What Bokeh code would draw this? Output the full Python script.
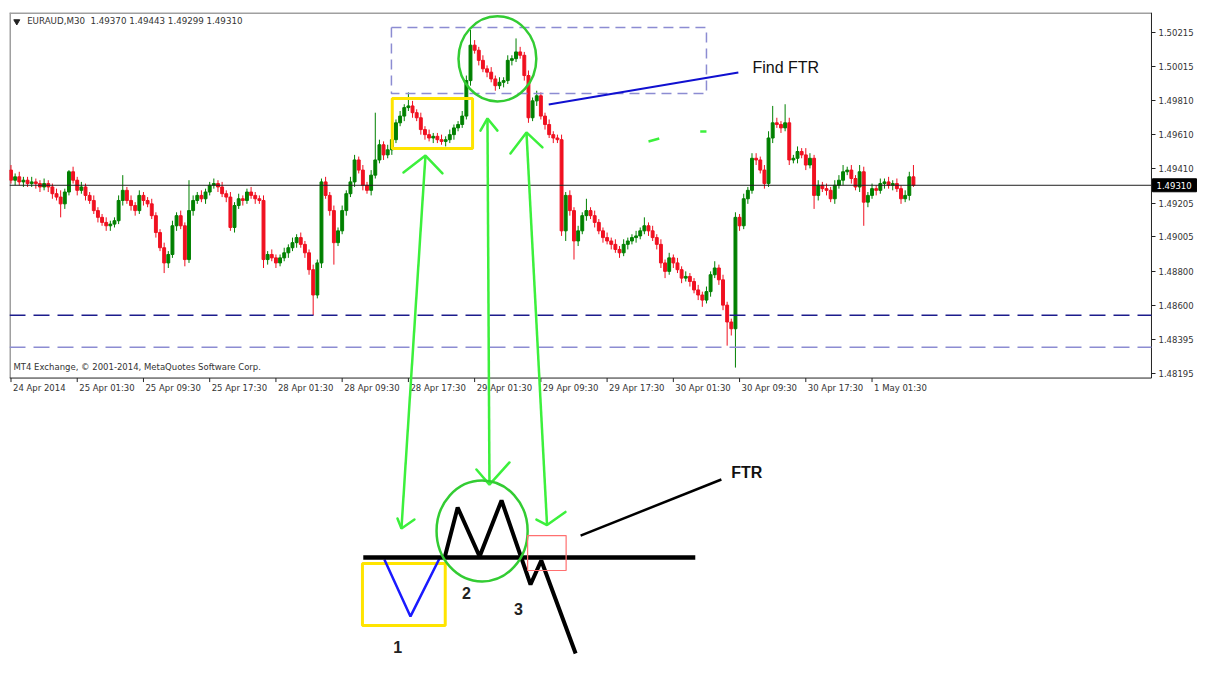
from bokeh.plotting import figure
from bokeh.models import Range1d, FixedTicker, PrintfTickFormatter, ColumnDataSource
from bokeh.core.properties import value
from bokeh.embed import file_html
from bokeh.resources import INLINE

# ---------------- data (EURAUD M30) ----------------
PIP = 0.0001
first_open = 1.4940
closes = [
    1.4934, 1.4936, 1.4933, 1.4934, 1.4932, 1.4933, 1.4932, 1.4930, 1.4932, 1.4930,
    1.4926, 1.4924, 1.4920, 1.4927, 1.4939, 1.4934, 1.4928, 1.4930, 1.4925, 1.4922,
    1.4916, 1.4912, 1.4909, 1.4907, 1.4908, 1.4910, 1.4922, 1.4928, 1.4922, 1.4919,
    1.4916, 1.4925, 1.4922, 1.4920, 1.4913, 1.4903, 1.4894, 1.4885, 1.4890, 1.4907,
    1.4913, 1.4907, 1.4887, 1.4916, 1.4922, 1.4925, 1.4923, 1.4927, 1.4931, 1.4932,
    1.4930, 1.4926, 1.4924, 1.4906, 1.4919, 1.4923, 1.4922, 1.4927, 1.4925, 1.4923,
    1.4922, 1.4887, 1.4890, 1.4888, 1.4885, 1.4888, 1.4891, 1.4894, 1.4897, 1.4900,
    1.4896, 1.4891, 1.4881, 1.4866, 1.4885, 1.4933, 1.4925, 1.4916, 1.4897, 1.4904,
    1.4916, 1.4926, 1.4933, 1.4946, 1.4940, 1.4931, 1.4928, 1.4937, 1.4946, 1.4955,
    1.4949, 1.4952, 1.4958, 1.4968, 1.4972, 1.4977, 1.4978, 1.4974, 1.4971, 1.4964,
    1.4961, 1.4959, 1.4960, 1.4958, 1.4957, 1.4958, 1.4961, 1.4965, 1.4967, 1.4972,
    1.4993, 1.5014, 1.5011, 1.5005, 1.5000, 1.4998, 1.4994, 1.4990, 1.4992, 1.4993,
    1.5005, 1.5006, 1.5010, 1.5008, 1.4996, 1.4971, 1.4981, 1.4984, 1.4972, 1.4967,
    1.4961, 1.4959, 1.4958, 1.4904, 1.4925, 1.4916, 1.4898, 1.4904, 1.4913, 1.4916,
    1.4913, 1.4909, 1.4904, 1.4900, 1.4898, 1.4896, 1.4893, 1.4891, 1.4896, 1.4898,
    1.4900, 1.4901, 1.4904, 1.4907, 1.4904, 1.4900, 1.4896, 1.4885, 1.4880, 1.4888,
    1.4885, 1.4881, 1.4876, 1.4877, 1.4874, 1.4869, 1.4866, 1.4863, 1.4868, 1.4878,
    1.4882, 1.4875, 1.4860, 1.4850, 1.4846, 1.4912, 1.4907, 1.4923, 1.4928, 1.4947,
    1.4946, 1.4940, 1.4932, 1.4959, 1.4968, 1.4967, 1.4965, 1.4968, 1.4946, 1.4947,
    1.4951, 1.4949, 1.4943, 1.4947, 1.4925, 1.4931, 1.4929, 1.4928, 1.4923, 1.4931,
    1.4934, 1.4939, 1.4940, 1.4935, 1.4930, 1.4939, 1.4921, 1.4925, 1.4929, 1.4928,
    1.4932, 1.4933, 1.4931, 1.4932, 1.4929, 1.4923, 1.4925, 1.4936, 1.4931,
]
wick_up_pips = [
    3, 2, 3, 2, 2, 3, 2, 2, 3, 2,
    2, 3, 4, 2, 1, 3, 2, 3, 2, 2,
    3, 2, 2, 3, 2, 2, 3, 9, 2, 3,
    2, 3, 2, 2, 3, 2, 2, 3, 2, 3,
    2, 3, 2, 18, 3, 2, 3, 2, 2, 3,
    2, 3, 2, 3, 2, 3, 2, 2, 3, 2,
    2, 3, 2, 3, 2, 2, 3, 2, 3, 2,
    3, 2, 2, 3, 2, 2, 3, 2, 3, 2,
    3, 2, 3, 3, 2, 3, 2, 3, 28, 3,
    2, 3, 3, 2, 3, 2, 8, 3, 2, 3,
    2, 3, 2, 2, 3, 2, 3, 2, 2, 3,
    3, 9, 3, 2, 3, 2, 3, 2, 3, 2,
    3, 2, 8, 3, 2, 3, 2, 3, 2, 2,
    3, 2, 2, 3, 2, 3, 2, 3, 2, 7,
    2, 3, 2, 2, 3, 2, 3, 2, 3, 2,
    2, 3, 2, 5, 2, 3, 2, 3, 2, 3,
    2, 3, 2, 3, 2, 2, 3, 2, 3, 2,
    4, 2, 3, 2, 2, 3, 2, 3, 2, 3,
    3, 2, 3, 4, 10, 3, 2, 11, 3, 2,
    3, 2, 4, 3, 2, 3, 2, 3, 2, 3,
    3, 4, 2, 3, 2, 4, 3, 2, 3, 2,
    3, 2, 3, 2, 3, 2, 3, 3, 7,
]
wick_down_pips = [
    2, 3, 2, 3, 2, 2, 3, 3, 2, 3,
    3, 2, 8, 3, 2, 2, 3, 2, 3, 2,
    2, 3, 2, 3, 3, 2, 2, 3, 2, 3,
    3, 2, 3, 2, 2, 3, 2, 6, 3, 2,
    3, 2, 4, 2, 3, 2, 2, 3, 2, 2,
    3, 2, 3, 2, 3, 2, 3, 2, 2, 3,
    2, 5, 3, 2, 3, 2, 2, 3, 2, 3,
    2, 3, 3, 12, 2, 3, 2, 3, 13, 2,
    2, 3, 2, 3, 2, 3, 2, 3, 2, 2,
    3, 2, 3, 2, 2, 3, 2, 3, 2, 3,
    3, 2, 3, 2, 2, 3, 2, 3, 2, 2,
    2, 3, 2, 3, 2, 3, 2, 3, 2, 3,
    2, 3, 2, 2, 3, 3, 2, 3, 2, 3,
    2, 3, 2, 3, 6, 3, 11, 3, 2, 3,
    2, 3, 2, 3, 2, 3, 2, 3, 2, 3,
    2, 3, 2, 2, 3, 2, 3, 3, 4, 2,
    3, 2, 3, 2, 3, 2, 3, 4, 2, 3,
    2, 3, 3, 14, 4, 23, 3, 2, 3, 2,
    3, 2, 3, 2, 3, 2, 3, 2, 3, 2,
    3, 2, 3, 2, 8, 3, 2, 3, 2, 3,
    2, 3, 2, 3, 2, 3, 14, 3, 2, 3,
    2, 3, 2, 3, 2, 3, 2, 3, 1,
]
time_labels = ["24 Apr 2014", "25 Apr 01:30", "25 Apr 09:30", "25 Apr 17:30",
               "28 Apr 01:30", "28 Apr 09:30", "28 Apr 17:30", "29 Apr 01:30",
               "29 Apr 09:30", "29 Apr 17:30", "30 Apr 01:30", "30 Apr 09:30",
               "30 Apr 17:30", "1 May 01:30"]
bars_per_label = 16
price_ticks = [1.50215, 1.50015, 1.49810, 1.49610, 1.49410, 1.49205,
               1.49005, 1.48800, 1.48600, 1.48395, 1.48195]
last_price = 1.49310
dark_level = 1.4854
light_level = 1.4835
header_text = "EURAUD,M30\u00a0\u00a01.49370 1.49443 1.49299 1.49310"
copyright_text = "MT4 Exchange, \u00a9 2001-2014, MetaQuotes Software Corp."

opens = [first_open] + closes[:-1]
highs = [max(o, c) + u * PIP for o, c, u in zip(opens, closes, wick_up_pips)]
lows = [min(o, c) - d * PIP for o, c, d in zip(opens, closes, wick_down_pips)]
idx = list(range(len(closes)))
UP, DOWN = "#008000", "#f01020"
colors = [UP if c >= o else DOWN for o, c in zip(opens, closes)]
src = ColumnDataSource(dict(x=idx, h=highs, l=lows,
                            top=[max(o, c) for o, c in zip(opens, closes)],
                            bot=[min(o, c) for o, c in zip(opens, closes)],
                            col=colors))

# ---------------- layout ----------------
X_START, X_BOX_END, X_END = -0.36, 275.5, 286.86
Y_BOTTOM, Y_TOP = 1.46483, 1.503335
BOX_BOTTOM = 1.48168
PX = 1 / 16881.0          # price per pixel (layout only)
BX = 1 / 4.1398           # bars per pixel (layout only)
FONT = "DejaVu Sans"

p = figure(frame_width=1189, frame_height=650,
           x_range=Range1d(X_START, X_END), y_range=Range1d(Y_BOTTOM, Y_TOP),
           x_axis_type=None, y_axis_location="right",
           toolbar_location=None, output_backend="svg",
           min_border_left=9, min_border_top=12, min_border_bottom=0, min_border_right=0,
           background_fill_color="white", border_fill_color="white")
p.outline_line_color = None
p.grid.visible = False

ax = p.yaxis[0]
ax.fixed_location = X_BOX_END
ax.ticker = FixedTicker(ticks=price_ticks)
ax.formatter = PrintfTickFormatter(format="%.5f")
ax.axis_line_color = None
ax.major_tick_out = 4
ax.major_tick_in = 0
ax.major_tick_line_color = "#222222"
ax.minor_tick_line_color = None
ax.major_label_text_font = FONT
ax.major_label_text_font_size = "8.5px"
ax.major_label_text_color = "#333333"
ax.major_label_standoff = 3

# chart box
p.segment(x0=[X_START], y0=[Y_TOP], x1=[X_BOX_END], y1=[Y_TOP], line_color="#a0a0a0", line_width=3)
p.segment(x0=[X_START], y0=[BOX_BOTTOM], x1=[X_START], y1=[Y_TOP], line_color="#a0a0a0", line_width=3)
p.segment(x0=[X_BOX_END], y0=[BOX_BOTTOM], x1=[X_BOX_END], y1=[Y_TOP], line_color="#222222", line_width=1)
p.segment(x0=[X_START], y0=[BOX_BOTTOM], x1=[X_BOX_END], y1=[BOX_BOTTOM], line_color="#222222", line_width=1)

# candles
p.segment(x0="x", y0="h", x1="x", y1="l", line_color="col", line_width=1, source=src)
p.vbar(x="x", width=0.7, top="top", bottom="bot", fill_color="col", line_color="col",
       line_width=1, source=src)

# price lines
p.segment(x0=[X_START], y0=[last_price], x1=[X_BOX_END], y1=[last_price], line_color="#202020", line_width=1)
p.segment(x0=[X_START], y0=[dark_level], x1=[X_BOX_END], y1=[dark_level], line_color="#1c1c8c",
          line_width=1.5, line_dash="16 8")
p.segment(x0=[X_START], y0=[light_level], x1=[X_BOX_END], y1=[light_level], line_color="#8c8cd2",
          line_width=1.5, line_dash="16 8")

# current price tag on the price scale
p.quad(left=[X_BOX_END + 1 * BX], right=[X_BOX_END + 45 * BX],
       top=[last_price + 6.5 * PX], bottom=[last_price - 6.5 * PX],
       fill_color="black", line_color="black")
p.text(x=[X_BOX_END + 5 * BX], y=[last_price], text=["%.5f" % last_price], text_font=value(FONT),
       text_font_size="8.5px", text_color="white", text_baseline="middle")

# time axis (bottom of chart box)
tick_x = [i * bars_per_label for i in range(len(time_labels))]
p.segment(x0=tick_x, y0=[BOX_BOTTOM] * len(tick_x), x1=tick_x,
          y1=[BOX_BOTTOM - 4 * PX] * len(tick_x), line_color="#222222", line_width=1)
p.text(x=tick_x, y=[BOX_BOTTOM] * len(tick_x), text=time_labels, x_offset=2, y_offset=5,
       text_font=value(FONT), text_font_size="8.5px", text_color="#333333",
       text_baseline="top", text_align="left")

# header / footer texts
p.scatter(x=[1.4], y=[Y_TOP - 9 * PX], marker="inverted_triangle", size=6,
          fill_color="#222222", line_color="#222222")
p.text(x=[3.9], y=[Y_TOP - 9 * PX], text=[header_text], text_font=value(FONT),
       text_font_size="8.7px", text_color="#333333", text_baseline="middle")
p.text(x=[0.6], y=[BOX_BOTTOM + 11 * PX], text=[copyright_text], text_font=value(FONT),
       text_font_size="8.5px", text_color="#333333", text_baseline="middle")

# ---------------- annotations on the chart ----------------
GREEN = "#3cf03c"
CIRCLE_GREEN = "#33cc33"
p.quad(left=[91.9], right=[168.0], top=[1.50245], bottom=[1.49854], fill_color=None,
       line_color="#8c8cd2", line_width=1.5, line_dash="10 6")
p.quad(left=[92.1], right=[111.5], top=[1.49824], bottom=[1.49528], fill_color=None,
       line_color="#ffe400", line_width=3)
p.ellipse(x=[117.5], y=[1.50059], width=[18.8], height=[0.00504], fill_color=None,
          line_color=CIRCLE_GREEN, line_width=2.5)
p.segment(x0=[129.9], y0=[1.49788], x1=[175.7], y1=[1.49978], line_color="#1010d0", line_width=2)
p.text(x=[179.1], y=[1.50008], text=["Find FTR"], text_font=value("Liberation Sans"),
       text_font_size="16px", text_color="#111111", text_baseline="middle")
p.segment(x0=[154.0, 166.5], y0=[1.49569, 1.49629], x1=[156.6, 168.0], y1=[1.49587, 1.49629],
          line_color=GREEN, line_width=2.5)

# green double-headed arrows linking the chart to the sketch (hand-drawn strokes)
shaft_top_x = [100.12, 115.10, 124.52]
shaft_top_y = [1.49486, 1.49706, 1.49623]
shaft_bot_x = [94.32, 115.58, 129.49]
shaft_bot_y = [1.47277, 1.47537, 1.47297]
heads_x = [[94.81, 100.12, 104.23], [113.41, 115.10, 117.51], [120.65, 124.52, 128.38],
           [93.36, 94.32, 97.46], [112.44, 115.58, 120.41], [126.93, 129.49, 133.94]]
heads_y = [[1.49386, 1.49486, 1.49380], [1.49634, 1.49706, 1.49634], [1.49498, 1.49623, 1.49534],
           [1.47336, 1.47277, 1.47330], [1.47626, 1.47537, 1.47668], [1.47330, 1.47297, 1.47375]]
p.segment(x0=shaft_top_x, y0=shaft_top_y, x1=shaft_bot_x, y1=shaft_bot_y,
          line_color=GREEN, line_width=2.5)
p.multi_line(xs=heads_x, ys=heads_y, line_color=GREEN, line_width=2.5, line_cap="round")

# ---------------- sketch below the chart ----------------
p.quad(left=[84.9], right=[104.9], top=[1.47070], bottom=[1.46702], fill_color=None,
       line_color="#ffe400", line_width=3)
p.line(x=[90.2, 96.5, 103.5], y=[1.47093, 1.46756, 1.47099], line_color="#1a1aff", line_width=2.5)
p.segment(x0=[85.1], y0=[1.47105], x1=[165.3], y1=[1.47105], line_color="black", line_width=4.5)
p.line(x=[104.7, 107.9, 113.2, 118.5, 125.5, 128.1, 136.4],
       y=[1.47099, 1.47401, 1.47111, 1.47443, 1.46945, 1.47087, 1.46536],
       line_color="black", line_width=4)
p.ellipse(x=[113.8], y=[1.47262], width=[22.0], height=[0.00598], fill_color=None,
          line_color=CIRCLE_GREEN, line_width=2.5)
p.quad(left=[124.8], right=[134.1], top=[1.47235], bottom=[1.47028], fill_color=None,
       line_color="#ff7070", line_width=1.2)
p.segment(x0=[137.6], y0=[1.47235], x1=[171.6], y1=[1.47567], line_color="black", line_width=2.5)
p.text(x=[174.0], y=[1.47609], text=["FTR"], text_font=value("Liberation Sans"),
       text_font_size="16px", text_font_style="bold", text_color="#111111",
       text_baseline="middle")
p.text(x=[93.4, 110.0, 122.6], y=[1.46572, 1.46892, 1.46797], text=["1", "2", "3"],
       text_font=value("Liberation Sans"), text_font_size="16px", text_font_style="bold",
       text_color="#222222", text_baseline="middle", text_align="center")

open("out.html", "w").write(file_html(p, INLINE))
